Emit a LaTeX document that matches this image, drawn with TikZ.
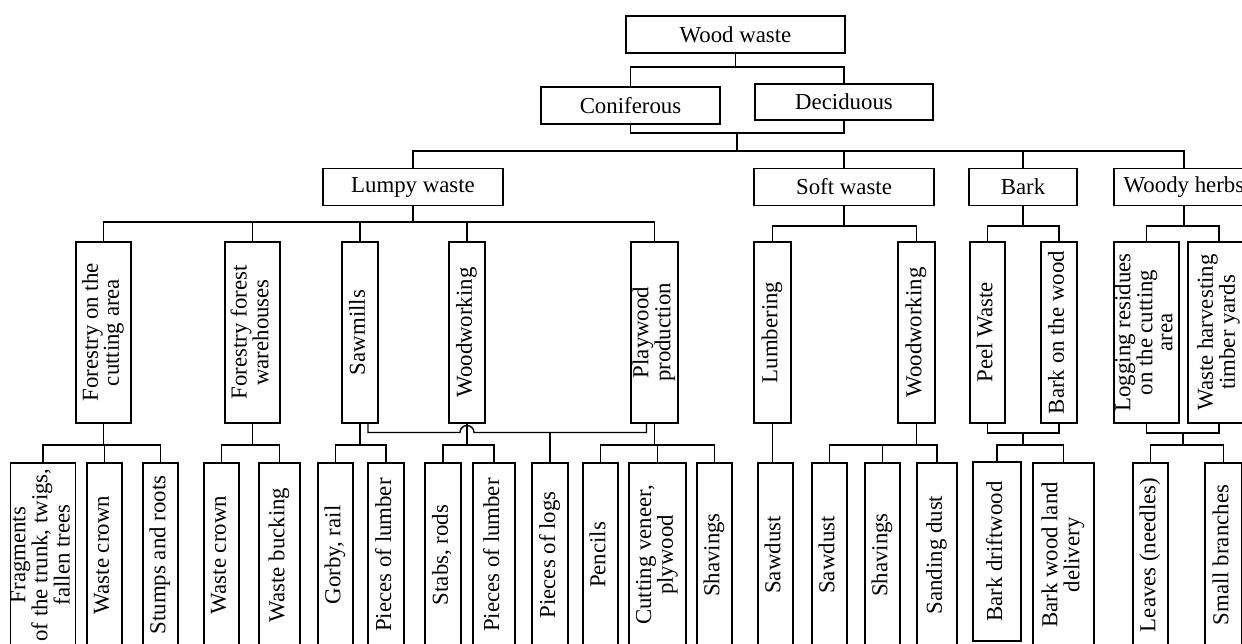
\documentclass[tikz,border=0pt]{standalone}
\usepackage{fontspec}
\setmainfont{Liberation Serif}
\usepackage{graphicx}
\usetikzlibrary{calc}
\renewcommand{\arraystretch}{0.82}
\newcommand{\vt}[1]{\rotatebox{90}{\begin{tabular}{@{}c@{}}#1\end{tabular}}}
\newcommand{\fork}[3]{%
  \draw (#1) -- (#1 |- 0,#2);
  \foreach \kid in {#3} {\draw (#1 |- 0,#2) -| (\kid.north);}
}

\begin{document}
\begin{tikzpicture}[
  x=0.02cm, y=-0.02cm, line width=0.8pt,
  font=\fontsize{13}{14}\selectfont,
  box/.style={draw, inner sep=0pt, minimum height=37*0.02cm},
  vbox/.style={draw, inner sep=0pt, minimum height=181*0.02cm},
  leaf/.style={draw, inner sep=0pt, minimum height=184*0.02cm},
  wd/.style={minimum width=#1*0.02cm}
]
\useasboundingbox (0,0) rectangle (1242,644);

% top levels
\node[box, wd=219] (wood) at (735.5,34.5) {Wood waste};
\node[box, wd=179] (conif) at (630.5,105.5) {Coniferous};
\node[box, wd=178, minimum height=36*0.02cm] (decid) at (844,102) {Deciduous};
\node[box, wd=180] (lumpy) at (413,187) {Lumpy waste};
\node[box, wd=180] (soft) at (844,187) {Soft waste};
\node[box, wd=108] (bark) at (1023,187) {Bark};
\node[box, wd=140] (herbs) at (1184,187) {Woody herbs};

% sources
\node[vbox, wd=55] (forcut) at (103.5,332.5) {\vt{Forestry on the\\cutting area}};
\node[vbox, wd=55] (forwh) at (252.5,332.5) {\vt{Forestry forest\\warehouses}};
\node[vbox, wd=36] (sawm) at (360,332.5) {\vt{Sawmills}};
\node[vbox, wd=36] (wwork) at (467,332.5) {\vt{Woodworking}};
\node[vbox, wd=47] (plyw) at (654.5,332.5) {\vt{Playwood\\production}};
\node[vbox, wd=37] (lumb) at (772.5,332.5) {\vt{Lumbering}};
\node[vbox, wd=37] (swork) at (916.5,332.5) {\vt{Woodworking}};
\node[vbox, wd=35] (peel) at (987.5,332.5) {\vt{Peel Waste}};
\node[vbox, wd=36] (barkw) at (1059,332.5) {\vt{Bark on the wood}};
\node[vbox, wd=65] (logres) at (1146.5,332.5) {\vt{Logging residues\\on the cutting\\area}};
\node[vbox, wd=62] (harv) at (1219,332.5) {\vt{Waste harvesting\\timber yards}};

% kinds of waste
\node[leaf, wd=62] (l1) at (43,555) {\vt{Fragments\\of the trunk, twigs,\\fallen trees}};
\node[leaf, wd=35] (l2) at (104.5,555) {\vt{Waste crown}};
\node[leaf, wd=35] (l3) at (160.5,555) {\vt{Stumps and roots}};
\node[leaf, wd=35] (l4) at (221.5,555) {\vt{Waste crown}};
\node[leaf, wd=41] (l5) at (279.5,555) {\vt{Waste bucking}};
\node[leaf, wd=35] (l6) at (335.5,555) {\vt{Gorby, rail}};
\node[leaf, wd=36] (l7) at (386,555) {\vt{Pieces of lumber}};
\node[leaf, wd=36] (l8) at (443,555) {\vt{Stabs, rods}};
\node[leaf, wd=42] (l9) at (494,555) {\vt{Pieces of lumber}};
\node[leaf, wd=36] (l10) at (550,555) {\vt{Pieces of logs}};
\node[leaf, wd=35] (l11) at (600.5,555) {\vt{Pencils}};
\node[leaf, wd=57] (l12) at (657.5,555) {\vt{Cutting veneer,\\plywood}};
\node[leaf, wd=35] (l13) at (714.5,555) {\vt{Shavings}};
\node[leaf, wd=35] (l14) at (775.5,555) {\vt{Sawdust}};
\node[leaf, wd=35] (l15) at (829.5,555) {\vt{Sawdust}};
\node[leaf, wd=35] (l16) at (882.5,555) {\vt{Shavings}};
\node[leaf, wd=40] (l17) at (937,555) {\vt{Sanding dust}};
\node[leaf, wd=48, minimum height=179*0.02cm] (l18) at (997,551.5) {\vt{Bark driftwood}};
\node[leaf, wd=61] (l19) at (1063.5,555) {\vt{Bark wood land\\delivery}};
\node[leaf, wd=35] (l20) at (1150.5,555) {\vt{Leaves (needles)}};
\node[leaf, wd=37] (l21) at (1223.5,555) {\vt{Small branches}};

% joins
\coordinate (cj) at (737,133);
\coordinate (bj) at (1023,433);
\coordinate (hj) at (1183,433);
\coordinate (hop) at (460,432.5);
\draw (conif.south) |- (cj) -| (decid.south);
\draw (peel.south) |- (bj) -| (barkw.south);
\draw (logres.south) |- (hj) -| (harv.south);

% forks
\fork{wood.south}{67}{conif,decid}
\fork{cj}{151}{lumpy,soft,bark,herbs}
\fork{lumpy.south}{222}{forcut,forwh,sawm,wwork,plyw}
\fork{soft.south}{226}{lumb,swork}
\fork{bark.south}{226}{peel,barkw}
\fork{herbs.south}{226}{logres,harv}
\fork{forcut.south}{445}{l1,l2,l3}
\fork{forwh.south}{445}{l4,l5}
\fork{sawm.south}{445}{l6,l7}
\fork{wwork.south}{445}{l8,l9}
\fork{plyw.south}{445}{l11,l12,l13}
\fork{swork.south}{445}{l15,l16,l17}
\fork{bj}{445}{l18,l19}
\fork{hj}{445}{l20,l21}
\draw (lumb.south) -- (lumb.south |- l14.north);

% sawmills to playwood, hopping over woodworking
\draw ($(sawm.south)+(8,0)$) |- (hop) arc[start angle=180, end angle=0, radius=0.14cm]
  -| ($(plyw.south)+(-8,0)$);
\draw (l10.north) -- (l10.north |- hop);
\end{tikzpicture}
\end{document}
